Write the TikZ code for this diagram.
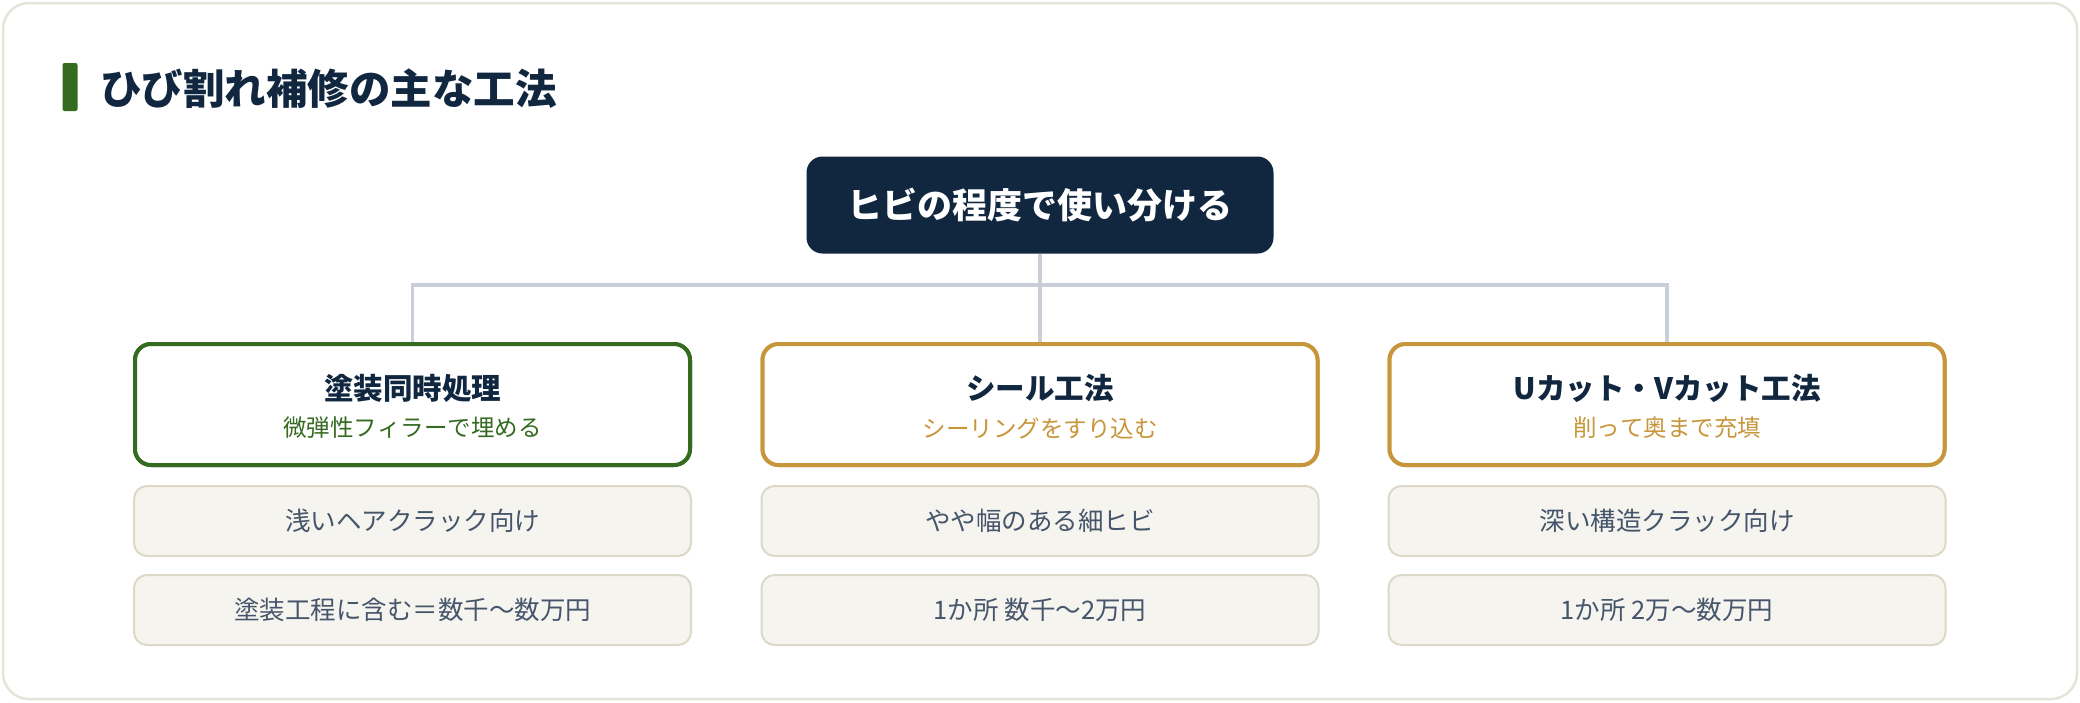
\documentclass[tikz,border=0pt]{standalone}
\usepackage{fontspec}
\setmainfont{Noto Sans CJK JP}[Kerning=Off]
\newfontfamily\heavyjp{Noto Sans CJK JP Black}[Kerning=Off]
\definecolor{navy}{HTML}{10273F}
\definecolor{leaf}{HTML}{356B21}
\definecolor{gold}{HTML}{C8963A}
\definecolor{connc}{HTML}{C9CFD9}
\definecolor{framec}{HTML}{E6E4DA}
\definecolor{boxfill}{HTML}{F6F4EE}
\definecolor{boxline}{HTML}{DDD9C8}
\definecolor{graytext}{HTML}{45556B}
\begin{document}
\begin{tikzpicture}[x=1pt,y=-1pt,
  frame/.style={draw=framec,line width=2.5pt,rounded corners=26pt},
  topbox/.style={fill=navy,rounded corners=16pt,minimum width=467pt,minimum height=97pt,inner sep=0pt,
     text=white,font=\fontsize{35}{40}\selectfont\bfseries},
  headbox/.style={draw=#1,line width=4pt,rounded corners=16pt,fill=white,minimum width=555pt,minimum height=121pt,inner sep=0pt},
  infobox/.style={draw=boxline,fill=boxfill,line width=2pt,rounded corners=13pt,minimum width=557pt,minimum height=70pt,inner sep=0pt,
     text=graytext,font=\fontsize{25.5}{30}\selectfont},
  headtitle/.style={text=navy,font=\fontsize{29.5}{34}\selectfont\bfseries,inner sep=0pt},
  headsub/.style={text=#1,font=\fontsize{23.5}{28}\selectfont,inner sep=0pt},
  conn/.style={draw=connc,line width=3.5pt}
]
\useasboundingbox (0,0) rectangle (2080,702);
\path[frame,fill=white] (3,3) rectangle (2077,699);
% title
\node[fill=leaf,rounded corners=2pt,minimum width=15pt,minimum height=48pt,inner sep=0pt] (bar) at (70,87) {};
\node[anchor=west,text=navy,font=\fontsize{41.5}{46}\heavyjp,inner sep=0pt] (title) at (100,88.5) {ひび割れ補修の主な工法};
% top node
\node[topbox] (top) at (1040,205) {ヒビの程度で使い分ける};
% head boxes
\node[headbox=leaf] (h1) at (412.5,404.5) {};
\node[headbox=gold] (h2) at (1040,404.5) {};
\node[headbox=gold] (h3) at (1667,404.5) {};
% connectors
\coordinate (junc) at (1040,285);
\draw[conn] (top.south) -- (h2.north);
\draw[conn] (h1.north) |- (junc) -| (h3.north);
\node[headbox=leaf] at (h1) {};
\node[headbox=gold] at (h2) {};
\node[headbox=gold] at (h3) {};
% head texts
\node[headtitle] (t1) at (412.5,388) {塗装同時処理};
\node[headsub=leaf] (s1) at (412.5,428) {微弾性フィラーで埋める};
\node[headtitle] (t2) at (1040,388) {シール工法};
\node[headsub=gold] (s2) at (1040,428) {シーリングをすり込む};
\node[headtitle] (t3) at (1667,388) {Uカット・Vカット工法};
\node[headsub=gold] (s3) at (1667,428) {削って奥まで充填};
% info boxes
\node[infobox] (a1) at (412.5,521) {浅いヘアクラック向け};
\node[infobox] (b1) at (412.5,610) {塗装工程に含む＝数千〜数万円};
\node[infobox] (a2) at (1040,521) {やや幅のある細ヒビ};
\node[infobox] (b2) at (1040,610) {1か所 数千〜2万円};
\node[infobox] (a3) at (1667,521) {深い構造クラック向け};
\node[infobox] (b3) at (1667,610) {1か所 2万〜数万円};
\end{tikzpicture}
\end{document}
